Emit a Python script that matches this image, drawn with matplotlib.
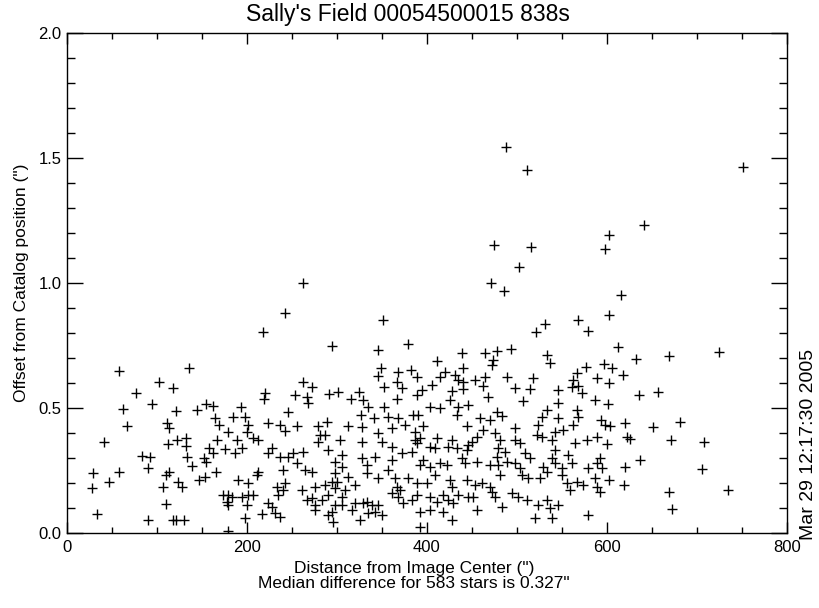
import matplotlib
matplotlib.use("Agg")
import matplotlib.pyplot as plt
from matplotlib import font_manager
import numpy as np

# offsets of catalog stars
dist_a = [57.8, 135.9, 102.6, 118.1, 76.7, 62.6, 94.1, 120.8, 144.8, 154.1, 162.6, 164.4, 184.8, 66.3, 110.8, 113.7, 169.2,
          179.2, 41.4, 112.6, 122.6, 132.2, 132.2, 166.3, 188.6, 175.6, 186.7, 83.0, 92.2, 133.0, 158.1, 161.9, 152.2,
          154.4, 138.6, 90.3, 29.2, 57.8, 113.7, 109.7, 165.6, 153.3, 147.0, 47.0, 28.1, 123.7, 128.1, 107.0, 190.3,
          173.7, 179.2, 183.0, 177.4, 179.2, 110.0, 33.0, 90.3, 118.1, 121.1, 130.0, 179.2]
off_a = [0.648, 0.661, 0.605, 0.579, 0.559, 0.497, 0.515, 0.489, 0.492, 0.515, 0.508, 0.459, 0.465, 0.428, 0.441, 0.421, 0.432,
         0.403, 0.365, 0.356, 0.372, 0.379, 0.349, 0.372, 0.372, 0.336, 0.319, 0.309, 0.303, 0.305, 0.339, 0.319, 0.299,
         0.285, 0.269, 0.259, 0.241, 0.245, 0.245, 0.232, 0.245, 0.225, 0.212, 0.203, 0.179, 0.205, 0.185, 0.185, 0.212,
         0.152, 0.152, 0.145, 0.125, 0.112, 0.116, 0.075, 0.052, 0.052, 0.052, 0.052, 0.008]

dist_b = [242.3, 217.4, 350.8, 294.8, 345.2, 378.6, 348.5, 345.2, 368.2, 381.9, 388.5, 366.3, 371.9, 352.6, 262.6, 271.9,
          220.0, 219.3, 253.4, 266.3, 268.2, 291.1, 301.5, 324.5, 315.6, 329.3, 334.8, 352.6, 367.1, 388.5, 246.0, 193.4,
          197.8, 201.5, 223.7, 236.7, 255.2, 279.3, 288.5, 311.9, 326.7, 341.5, 357.1, 368.2, 384.8, 375.6]
off_b = [0.879, 0.803, 0.852, 0.748, 0.732, 0.755, 0.659, 0.628, 0.645, 0.652, 0.625, 0.605, 0.579, 0.583, 0.605, 0.583,
         0.561, 0.535, 0.552, 0.545, 0.519, 0.556, 0.565, 0.565, 0.535, 0.532, 0.505, 0.505, 0.535, 0.552, 0.485, 0.505,
         0.465, 0.432, 0.441, 0.432, 0.428, 0.428, 0.445, 0.428, 0.472, 0.459, 0.465, 0.459, 0.472, 0.432]

dist_c = [242.3, 281.1, 327.4, 345.9, 360.8, 386.7, 199.7, 207.1, 212.6, 194.1, 227.4, 223.7, 236.7, 246.0, 251.5, 262.6,
          255.2, 279.3, 286.7, 290.4, 303.4, 305.2, 297.8, 327.4, 327.4, 333.0, 342.2, 349.7, 360.8, 360.8, 371.9, 383.0,
          386.7,
          201.5, 210.8, 212.6, 240.4, 242.3, 240.4, 264.5, 271.9, 275.6, 286.7, 297.8, 294.1, 299.7, 297.8, 305.2, 312.6,
          320.0, 333.0, 345.9, 357.1, 364.5, 366.3, 370.0, 379.3, 388.5,
          194.1, 201.5, 207.1, 199.7, 233.0, 234.8, 223.7, 260.8, 266.3, 271.9, 275.6, 283.0, 290.4, 305.2, 308.9, 297.8,
          305.2, 320.0, 329.3, 333.0, 338.5, 345.9, 360.8, 368.2, 373.7, 383.0, 388.5,
          197.8, 216.3, 227.4, 231.1, 236.7, 275.6, 294.1, 290.4, 296.0, 325.6, 334.8, 342.2, 349.7, 316.3]
off_c = [0.408, 0.392, 0.425, 0.399, 0.419, 0.405, 0.405, 0.379, 0.372, 0.339, 0.339, 0.319, 0.305, 0.305, 0.319, 0.325,
         0.279, 0.365, 0.392, 0.332, 0.372, 0.312, 0.285, 0.365, 0.299, 0.272, 0.305, 0.365, 0.345, 0.292, 0.319, 0.325,
         0.372,
         0.199, 0.232, 0.245, 0.252, 0.199, 0.172, 0.252, 0.245, 0.185, 0.192, 0.239, 0.205, 0.205, 0.179, 0.265, 0.225,
         0.192, 0.239, 0.219, 0.252, 0.219, 0.185, 0.172, 0.219, 0.199,
         0.145, 0.152, 0.152, 0.112, 0.185, 0.152, 0.119, 0.172, 0.132, 0.139, 0.112, 0.132, 0.152, 0.145, 0.172, 0.112,
         0.112, 0.119, 0.119, 0.125, 0.112, 0.112, 0.159, 0.145, 0.119, 0.132, 0.152,
         0.059, 0.075, 0.105, 0.079, 0.065, 0.092, 0.085, 0.072, 0.045, 0.052, 0.079, 0.085, 0.072, 0.092]

dist_d = [531.1, 520.8, 567.4, 579.3, 438.5, 410.8, 464.5, 477.4, 493.3, 473.7, 471.9, 440.4, 533.0, 536.7, 576.3, 420.0,
          414.5, 431.1, 434.8, 405.2, 394.1, 440.4, 453.4, 464.5, 462.6, 440.4, 427.4, 488.5, 497.8, 518.2, 514.5, 507.1,
          467.4, 425.6, 566.3, 562.6, 560.8, 568.2, 546.0, 571.9, 588.5, 586.7, 546.0, 403.4, 414.5, 434.8, 445.2, 433.0,
          458.9, 477.4, 483.0, 470.0, 533.0, 527.4, 546.0, 566.3, 568.2, 390.4, 395.9, 444.1, 523.7, 562.6]
off_d = [0.836, 0.803, 0.852, 0.809, 0.719, 0.689, 0.719, 0.729, 0.735, 0.692, 0.672, 0.659, 0.712, 0.679, 0.665, 0.645,
         0.623, 0.632, 0.612, 0.592, 0.572, 0.605, 0.612, 0.625, 0.588, 0.575, 0.569, 0.623, 0.579, 0.619, 0.575, 0.529,
         0.545, 0.532, 0.639, 0.612, 0.583, 0.588, 0.572, 0.561, 0.619, 0.532, 0.519, 0.505, 0.499, 0.503, 0.512, 0.472,
         0.459, 0.485, 0.468, 0.452, 0.492, 0.465, 0.459, 0.492, 0.465, 0.472, 0.428, 0.428, 0.432, 0.432]

dist_e = [462.6, 475.6, 497.8, 542.2, 551.5, 527.4, 521.9, 538.5, 392.3, 410.8, 427.4, 449.7, 455.2, 481.1, 497.8, 503.4,
          542.2, 564.5, 577.4, 588.5, 388.5, 403.4, 408.9, 423.7, 433.0, 445.9, 444.1, 479.3, 486.7, 477.4, 508.9, 514.5,
          557.1, 538.5, 396.0, 403.4, 392.3, 414.5, 421.9, 438.5, 442.2, 455.2, 470.0, 479.3, 488.5, 497.8, 503.4, 529.3,
          533.0, 542.2, 549.7, 560.8, 579.3, 588.5,
          399.7, 408.9, 425.6, 427.4, 444.1, 453.4, 460.8, 470.0, 481.1, 505.2, 512.6, 525.6, 549.7, 555.2, 558.9, 566.3,
          573.7, 586.7,
          403.4, 410.8, 418.2, 423.7, 429.3, 434.8, 445.9, 451.5, 471.9, 475.6, 494.1, 501.5, 510.8, 523.7, 533.0, 536.7,
          545.9,
          392.3, 403.4, 418.2, 455.2, 483.0, 520.0, 538.5, 579.3, 427.4, 392.3]
off_e = [0.412, 0.399, 0.419, 0.405, 0.412, 0.385, 0.392, 0.372, 0.379, 0.379, 0.372, 0.365, 0.385, 0.372, 0.372, 0.359,
         0.332, 0.359, 0.372, 0.385, 0.359, 0.345, 0.339, 0.345, 0.339, 0.352, 0.332, 0.339, 0.325, 0.305, 0.319, 0.299,
         0.312, 0.299, 0.292, 0.265, 0.272, 0.279, 0.272, 0.299, 0.279, 0.285, 0.272, 0.272, 0.285, 0.279, 0.259, 0.265,
         0.245, 0.279, 0.259, 0.279, 0.259, 0.279,
         0.199, 0.232, 0.212, 0.185, 0.212, 0.192, 0.199, 0.185, 0.232, 0.232, 0.219, 0.219, 0.232, 0.199, 0.172, 0.205,
         0.192, 0.219,
         0.145, 0.125, 0.152, 0.132, 0.119, 0.152, 0.145, 0.145, 0.165, 0.145, 0.159, 0.145, 0.132, 0.112, 0.132, 0.099,
         0.112,
         0.085, 0.092, 0.085, 0.092, 0.105, 0.059, 0.059, 0.072, 0.052, 0.025]

dist_f = [602.2, 612.6, 632.2, 668.9, 724.5, 597.1, 606.0, 617.4, 602.2, 635.9, 657.1, 600.8, 593.4, 597.8, 603.4, 620.0,
          651.5, 681.1,
          621.9, 625.6, 599.7, 671.1, 708.2, 592.3, 594.1, 620.0, 636.7, 706.0, 602.2, 588.5, 592.3, 618.9, 668.9, 672.6,
          734.1]
off_f = [0.872, 0.745, 0.695, 0.709, 0.725, 0.676, 0.659, 0.632, 0.599, 0.552, 0.565, 0.516, 0.452, 0.432, 0.428, 0.441,
         0.425, 0.445,
         0.385, 0.376, 0.356, 0.372, 0.365, 0.299, 0.261, 0.265, 0.292, 0.256, 0.212, 0.185, 0.165, 0.192, 0.165, 0.095,
         0.172]

# the stragglers above 0.9"
dist_g = [487.8, 510.7, 474.4, 515.2, 502.6, 470.8, 485.6, 261.9, 751.5, 641.2, 602.6, 597.8, 615.2]
off_g = [1.545, 1.452, 1.152, 1.145, 1.065, 1.001, 0.969, 1.001, 1.463, 1.232, 1.192, 1.135, 0.952]

dist = np.array(dist_a + dist_b + dist_c + dist_d + dist_e + dist_f + dist_g)
offset = np.array(off_a + off_b + off_c + off_d + off_e + off_f + off_g)
assert len(dist) == len(offset)

title = "Sally's Field 00054500015 838s"
xlab1 = "Distance from Image Center (\")"
xlab2 = "Median difference for 583 stars is 0.327\""
ylab = "Offset from Catalog position (\")"
stamp = "Mar 29 12:17:30 2005"

avail = {f.name for f in font_manager.fontManager.ttflist}
fam = [f for f in ["Liberation Sans Narrow", "Liberation Sans", "DejaVu Sans"] if f in avail]
plt.rcParams["font.family"] = fam

W, H = 820, 608
fig = plt.figure(figsize=(W / 100, H / 100), dpi=100)
ax = fig.add_axes([67 / W, 1 - 533 / H, 720 / W, 500 / H])

ax.plot(dist, offset, "+", color="black", ms=7.8, mew=1.0)
ax.set_xlim(0, 800)
ax.set_ylim(0, 2.0)
ax.set_xticks([0, 200, 400, 600, 800])
ax.set_xticks(np.arange(0, 801, 50), minor=True)
ax.set_yticks([0, 0.5, 1.0, 1.5, 2.0])
ax.set_yticks(np.arange(0, 2.01, 0.1), minor=True)
ax.set_yticklabels(["0.0", "0.5", "1.0", "1.5", "2.0"])
ax.tick_params(axis="both", which="both", direction="in", top=True, right=True, width=1, labelsize=12)
ax.tick_params(axis="x", which="major", length=8)
ax.tick_params(axis="x", which="minor", length=4.5)
ax.tick_params(axis="y", which="major", length=11.5)
ax.tick_params(axis="y", which="minor", length=6)
ax.tick_params(axis="x", pad=5)
ax.tick_params(axis="y", pad=4)
for s in ax.spines.values():
    s.set_linewidth(1)

fig.text(408 / W, 1 - 14 / H, title, ha="center", va="center", fontsize=16.5)
fig.text(414 / W, 1 - 569 / H, xlab1, ha="center", va="center", fontsize=12.5)
fig.text(414 / W, 1 - 584 / H, xlab2, ha="center", va="center", fontsize=12.5)
fig.text(22 / W, 1 - 283 / H, ylab, ha="center", va="center", rotation=90, fontsize=12.5)
fig.text(809 / W, 1 - 540 / H, stamp, rotation=90, ha="center", va="bottom", fontsize=14)

fig.savefig("out.png", dpi=100)
